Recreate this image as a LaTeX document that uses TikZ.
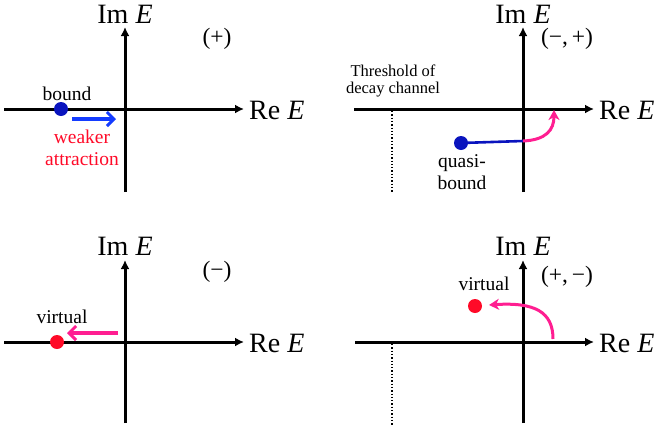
\documentclass[tikz,border=0pt]{standalone}
\usepackage{fontspec}
\setmainfont{Liberation Serif}
\usetikzlibrary{arrows.meta}
\definecolor{dotblue}{RGB}{10,20,190}
\definecolor{arrblue}{RGB}{20,60,255}
\definecolor{myred}{RGB}{255,10,40}
\definecolor{mymag}{RGB}{255,30,145}
\tikzset{
  axis/.style={line width=3pt,-{Latex[length=9pt,width=9pt]}},
  axislabel/.style={font=\fontsize{28}{30}\selectfont,inner sep=0pt},
  sign/.style={font=\fontsize{23.5}{26}\selectfont,inner sep=0pt},
  lbl/.style={font=\fontsize{19.5}{21}\selectfont,inner sep=0pt},
  small/.style={font=\fontsize{16.5}{19}\selectfont,inner sep=0pt,align=center},
  pole/.style={circle,inner sep=0pt,minimum size=14pt},
  flow/.style={line width=3.6pt,-{Straight Barb[length=7pt,width=14pt,line width=3pt]}},
  curveflow/.style={line width=3pt,-{Stealth[length=10pt,width=11pt,inset=3pt]}},
  thr/.style={dotted,line width=1.3pt}
}
\begin{document}
\begin{tikzpicture}[x=1pt,y=-1pt]
\useasboundingbox (0,0) rectangle (657,429);
% ---------- panel 1 (+)
\coordinate (h1a) at (4,109); \coordinate (h1b) at (244,109);
\coordinate (v1a) at (125,192); \coordinate (v1b) at (125,27);
\draw[axis] (h1a) -- (h1b);
\draw[axis] (v1a) -- (v1b);
\node[axislabel] (im1) at (125,14) {Im \textit{E}};
\node[axislabel,anchor=west] (re1) at (249,110) {Re \textit{E}};
\node[sign] (s1) at (217,39) {(+)};
\node[pole,fill=dotblue] (b1) at (61,109) {};
\node[lbl] (bl1) at (67,94) {bound};
\coordinate (a1s) at (72,119); \coordinate (a1e) at (116,119);
\draw[flow,arrblue] (a1s) -- (a1e);
\node[lbl,text=myred] (w1) at (82,137) {weaker};
\node[lbl,text=myred] (w2) at (82,159) {attraction};
% ---------- panel 2 (-,+)
\coordinate (h2a) at (354,109); \coordinate (h2b) at (594,109);
\coordinate (v2a) at (523,192); \coordinate (v2b) at (523,27);
\draw[axis] (h2a) -- (h2b);
\draw[axis] (v2a) -- (v2b);
\node[axislabel] (im2) at (523,14) {Im \textit{E}};
\node[axislabel,anchor=west] (re2) at (599,110) {Re \textit{E}};
\node[sign] (s2) at (567,39) {(−,\,+)};
\node[small] (th) at (393,81) {Threshold of\\[-2pt]decay channel};
\coordinate (t2a) at (392,111); \coordinate (t2b) at (392,192);
\draw[thr] (t2a) -- (t2b);
\node[pole,fill=dotblue] (q2) at (461,143) {};
\coordinate (q2m) at (523,141);
\draw[line width=2.6pt,dotblue] (q2.center) -- (q2m);
\coordinate (q2e) at (554,110);
\draw[curveflow,mymag] (q2m) .. controls (546,140) and (554,130) .. (q2e);
\node[lbl] (ql1) at (462,163) {quasi-};
\node[lbl] (ql2) at (462,183) {bound};
% ---------- panel 3 (-)
\coordinate (h3a) at (4,342); \coordinate (h3b) at (244,342);
\coordinate (v3a) at (125,423); \coordinate (v3b) at (125,260);
\draw[axis] (h3a) -- (h3b);
\draw[axis] (v3a) -- (v3b);
\node[axislabel] (im3) at (125,246) {Im \textit{E}};
\node[axislabel,anchor=west] (re3) at (249,343) {Re \textit{E}};
\node[sign] (s3) at (217,272) {(−)};
\node[pole,fill=myred] (v3) at (57,342) {};
\node[lbl] (vl3) at (62,317) {virtual};
\coordinate (a3s) at (118,333); \coordinate (a3e) at (67,333);
\draw[flow,mymag] (a3s) -- (a3e);
% ---------- panel 4 (+,-)
\coordinate (h4a) at (355,342); \coordinate (h4b) at (594,342);
\coordinate (v4a) at (523,423); \coordinate (v4b) at (523,260);
\draw[axis] (h4a) -- (h4b);
\draw[axis] (v4a) -- (v4b);
\node[axislabel] (im4) at (523,246) {Im \textit{E}};
\node[axislabel,anchor=west] (re4) at (599,343) {Re \textit{E}};
\node[sign] (s4) at (567,277) {(+,\,−)};
\coordinate (t4a) at (392,344); \coordinate (t4b) at (392,425);
\draw[thr] (t4a) -- (t4b);
\node[pole,fill=myred] (v4) at (475,306) {};
\node[lbl] (vl4) at (484,284) {virtual};
\coordinate (c4s) at (553,339); \coordinate (c4e) at (489,305);
\draw[curveflow,mymag] (c4s) .. controls (553,312) and (535,302) .. (c4e);
\end{tikzpicture}
\end{document}
